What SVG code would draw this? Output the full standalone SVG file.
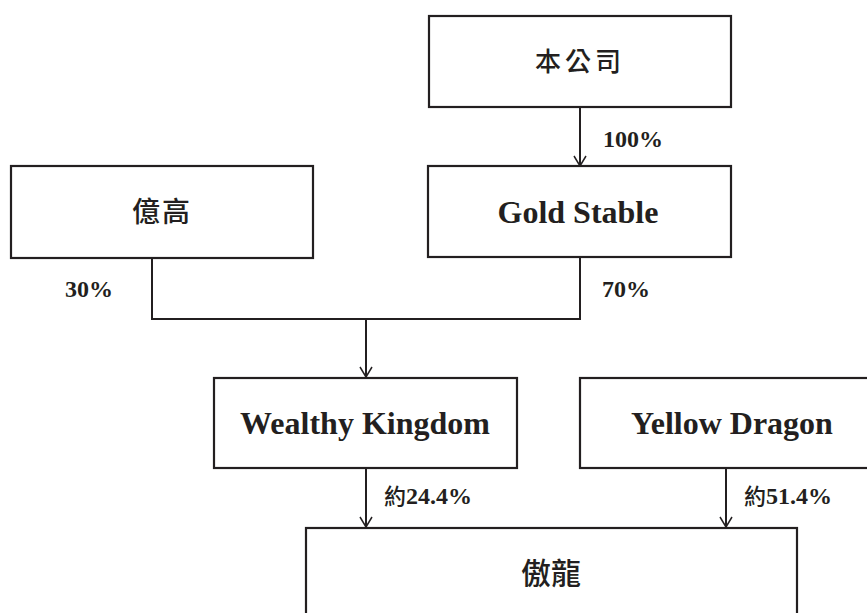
<svg xmlns="http://www.w3.org/2000/svg" width="867" height="613" viewBox="0 0 867 613">
<defs>
<style>
.box{fill:#fff;stroke:#231f20;stroke-width:2.2}
.ln{fill:none;stroke:#231f20;stroke-width:2}
.cjk{font-family:"Noto Sans CJK TC","Noto Sans CJK SC",sans-serif;font-weight:500;fill:#231f20;text-anchor:middle}
.en{font-family:"Liberation Serif","Times New Roman",serif;font-weight:bold;font-size:32px;fill:#231f20;text-anchor:middle}
.pct{font-family:"Liberation Serif","Times New Roman",serif;font-weight:bold;font-size:24px;fill:#231f20}
.yue{font-family:"Noto Sans CJK TC","Noto Sans CJK SC",sans-serif;font-weight:500;font-size:22px}
</style>
<marker id="arr" markerWidth="14" markerHeight="14" refX="12" refY="7" orient="auto" markerUnits="userSpaceOnUse" viewBox="0 0 14 14">
<path d="M2,1 L12,7 L2,13" fill="none" stroke="#231f20" stroke-width="1.5"/>
</marker>
</defs>
<rect width="867" height="613" fill="#fff"/>
<g id="connectors">
<line class="ln" x1="580" y1="107" x2="580" y2="166" marker-end="url(#arr)"/>
<polyline class="ln" points="152,258 152,319 580,319 580,257"/>
<line class="ln" x1="366" y1="319" x2="366" y2="377" marker-end="url(#arr)"/>
<line class="ln" x1="366" y1="468" x2="366" y2="527" marker-end="url(#arr)"/>
<line class="ln" x1="726" y1="468" x2="726" y2="527" marker-end="url(#arr)"/>
<text class="pct" x="603" y="147">100%</text>
<text class="pct" x="65" y="297">30%</text>
<text class="pct" x="602" y="297">70%</text>
<text class="pct" x="384" y="504"><tspan class="yue">約</tspan>24.4%</text>
<text class="pct" x="744" y="504"><tspan class="yue">約</tspan>51.4%</text>
</g>
<g id="node-company">
<rect class="box" x="429" y="16" width="302" height="91"/>
<text class="cjk" x="580" y="71" font-size="26" letter-spacing="4">本公司</text>
</g>
<g id="node-yigao">
<rect class="box" x="11" y="166" width="302" height="92"/>
<text class="cjk" x="162" y="222" font-size="28" letter-spacing="2">億高</text>
</g>
<g id="node-goldstable">
<rect class="box" x="428" y="166" width="303" height="91"/>
<text class="en" x="578" y="223">Gold Stable</text>
</g>
<g id="node-wealthy">
<rect class="box" x="214" y="378" width="303" height="90"/>
<text class="en" x="365" y="434">Wealthy Kingdom</text>
</g>
<g id="node-yellow">
<rect class="box" x="580" y="378" width="304" height="90"/>
<text class="en" x="732" y="434">Yellow Dragon</text>
</g>
<g id="node-aolong">
<rect class="box" x="306" y="528" width="491" height="110"/>
<text class="cjk" x="551" y="584" font-size="30">傲龍</text>
</g>
</svg>
